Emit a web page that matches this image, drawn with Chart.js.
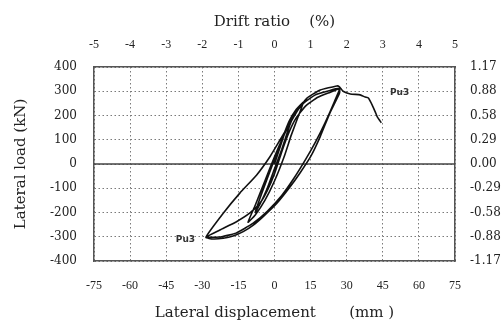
<!DOCTYPE html>
<html>
<head>
<meta charset="utf-8">
<script src="https://cdn.jsdelivr.net/npm/chart.js@4"></script>
<style>
  html, body { margin: 0; padding: 0; background: #fff; }
  #wrap { width: 504px; height: 333px; }
</style>
</head>
<body>
<div id="wrap"><canvas id="hysChart"></canvas></div>
<script>
// Hysteresis data (mm, kN)
const dispMm = [0, 2, 4, 6, 8, 6, 3, 0, -3, -6, -8, -6, -3, 0,
  3, 6, 9, 12, 10, 7, 4, 0, -4, -8, -11, -8, -4, 0,
  4, 8, 12, 17, 22, 27, 25, 21, 17, 13, 8, 3, -3, -9, -16, -22, -28.5,
  -22.7, -15.8, -10.2, -6, -3, 0, 3, 6, 9, 13, 18, 23, 27,
  27, 23, 19, 15, 10.6, 6.5, 1, -4.7, -8.8, -13, -17.2, -21.3, -25.5, -28.5,
  -21.3, -14.4, -7.4, -1.9, 2.3, 6.5, 9.8, 13.4, 19, 25.9, 27,
  28.5, 31.5, 35.6, 37.7, 39, 40.6, 41.9, 42.7, 44.4];
const loadKn = [0, 60, 120, 170, 205, 150, 60, -20, -100, -165, -200, -140, -60, 20,
  100, 175, 225, 255, 200, 120, 30, -70, -150, -210, -240, -170, -70, 30,
  120, 200, 250, 285, 300, 312, 260, 170, 90, 20, -60, -130, -195, -245, -285, -300, -302,
  -272, -238, -202, -161, -110, -40, 50, 130, 190, 240, 275, 295, 310,
  292, 210, 113, 30, -37, -94, -162, -217, -252, -279, -297, -306, -309, -302,
  -203, -120, -45, 30, 99, 169, 223, 271, 305, 322, 318,
  300, 289, 285, 276, 272, 243, 214, 194, 170];

// Tick labels
const driftTicks = [-5, -4, -3, -2, -1, 0, 1, 2, 3, 4, 5];
const ratioTicks = ['-1.17', '-0.88', '-0.58', '-0.29', '0.00', '0.29', '0.58', '0.88', '1.17'];

// Peak labels
const peakLabels = [
  { text: 'Pu3', x: -37, y: -312 },
  { text: 'Pu3', x: 52, y: 293 }
];

const points = dispMm.map((d, i) => ({ x: d, y: loadKn[i] }));

const serif = "'DejaVu Serif', 'Liberation Serif', serif";
const times = "'Liberation Serif', serif";
const gridCol = '#7a7a7a';
const boxCol = '#555';

// draws the zero load line and the Pu3 marks
const extras = {
  id: 'extras',
  beforeDatasetsDraw(chart) {
    const { ctx, chartArea, scales } = chart;
    const y0 = scales.y.getPixelForValue(0);
    ctx.save();
    ctx.strokeStyle = '#444';
    ctx.lineWidth = 1.5;
    ctx.beginPath();
    ctx.moveTo(chartArea.left, y0);
    ctx.lineTo(chartArea.right, y0);
    ctx.stroke();
    ctx.restore();
  },
  afterDatasetsDraw(chart) {
    const { ctx, scales } = chart;
    ctx.save();
    ctx.font = "bold 9px 'DejaVu Sans', sans-serif";
    ctx.fillStyle = '#333';
    ctx.textAlign = 'center';
    ctx.textBaseline = 'middle';
    peakLabels.forEach(p => {
      ctx.fillText(p.text, scales.x.getPixelForValue(p.x), scales.y.getPixelForValue(p.y));
    });
    ctx.restore();
  }
};

const sideTickFont = { family: serif, size: 12 };
const topTickFont = { family: times, size: 12 };
const titleFont = { family: serif, size: 15 };

new Chart(document.getElementById('hysChart'), {
  type: 'scatter',
  data: {
    datasets: [{
      data: points,
      showLine: true,
      borderColor: '#111',
      borderWidth: 1.6,
      pointRadius: 0,
      tension: 0.15,
      fill: false
    }]
  },
  plugins: [extras],
  options: {
    responsive: true,
    maintainAspectRatio: false,
    animation: false,
    layout: { padding: 0 },
    plugins: { legend: { display: false }, tooltip: { enabled: false } },
    scales: {
      x: {
        type: 'linear', position: 'bottom', min: -75, max: 75,
        afterFit(scale) { scale.height = 72; },
        ticks: { stepSize: 15, color: '#222', font: topTickFont, padding: 18, maxRotation: 0 },
        grid: { color: gridCol, drawTicks: false },
        border: { color: boxCol, width: 1.5, dash: [1.5, 2.5] },
        title: { display: true, text: 'Lateral displacement       (mm )', color: '#222', font: titleFont, padding: { top: 0, bottom: 11 } }
      },
      x2: {
        type: 'linear', position: 'top', min: -5, max: 5,
        afterFit(scale) { scale.height = 67; },
        afterBuildTicks(scale) { scale.ticks = driftTicks.map(v => ({ value: v })); },
        ticks: { color: '#222', font: topTickFont, padding: 15, maxRotation: 0 },
        grid: { drawOnChartArea: false, drawTicks: false },
        border: { color: boxCol, width: 1.5 },
        title: { display: true, text: 'Drift ratio    (%)', color: '#222', font: titleFont, padding: { top: 13, bottom: 0 } }
      },
      y: {
        type: 'linear', position: 'left', min: -400, max: 400,
        afterFit(scale) { scale.width = 94; },
        ticks: { stepSize: 100, color: '#222', font: sideTickFont, padding: 17 },
        grid: { color: gridCol, drawTicks: false },
        border: { color: boxCol, width: 1.5, dash: [1.5, 2.5] },
        title: { display: true, text: 'Lateral load (kN)', color: '#222', font: titleFont, padding: { top: 12, bottom: 0 } }
      },
      y2: {
        type: 'linear', position: 'right', min: -400, max: 400,
        afterFit(scale) { scale.width = 49; },
        ticks: {
          stepSize: 100, color: '#222', font: sideTickFont, padding: 15,
          callback: (v) => ratioTicks[Math.round(v / 100) + 4]
        },
        grid: { drawOnChartArea: false, drawTicks: false },
        border: { color: boxCol, width: 1.5 }
      }
    }
  }
});
</script>
</body>
</html>
